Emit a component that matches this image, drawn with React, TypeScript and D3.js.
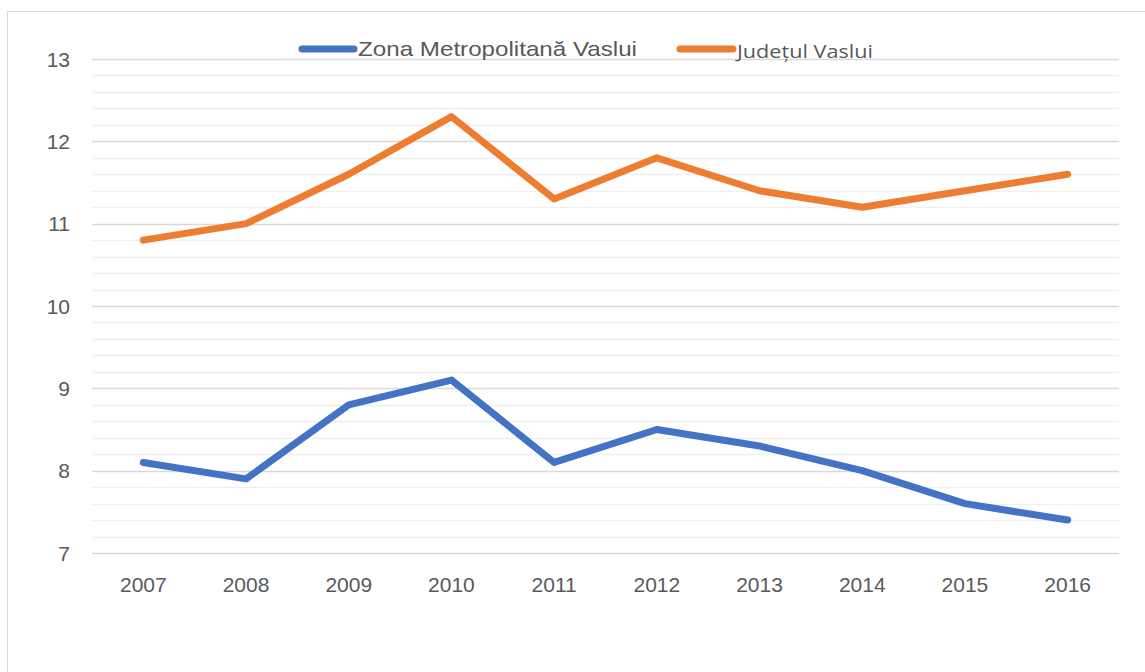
import React, { useEffect, useRef } from 'react';
import * as d3 from 'd3';

const years = ['2007', '2008', '2009', '2010', '2011', '2012', '2013', '2014', '2015', '2016'];
const zonaMetro = [8.1, 7.9, 8.8, 9.1, 8.1, 8.5, 8.3, 8.0, 7.6, 7.4];
const judetul = [10.8, 11.0, 11.6, 12.3, 11.3, 11.8, 11.4, 11.2, 11.4, 11.6];
const seriesNames = ['Zona Metropolitană Vaslui', 'Județul Vaslui'];
const yTicks = [7, 8, 9, 10, 11, 12, 13];

const App = () => {
    const ref = useRef<SVGSVGElement>(null);

    useEffect(() => {
        const width = 1145;
        const height = 672;
        const svg = d3.select(ref.current);
        svg.selectAll('*').remove();

        // chart frame
        svg.append('rect')
            .attr('x', 7.5).attr('y', 11.5)
            .attr('width', 1160).attr('height', 700)
            .attr('fill', '#fff')
            .attr('stroke', '#d9d9d9');

        const left = 92, right = 1119, top = 59, bottom = 553;
        const x = d3.scaleBand().domain(years).range([left, right]);
        const y = d3.scaleLinear().domain([7, 13]).range([bottom, top]);

        // minor gridlines
        const minor = d3.range(7, 13.001, 0.2).filter(v => Math.abs(v - Math.round(v)) > 0.01);
        svg.append('g').selectAll('line')
            .data(minor)
            .enter().append('line')
            .attr('x1', left).attr('x2', right)
            .attr('y1', d => Math.round(y(d)) + 0.5)
            .attr('y2', d => Math.round(y(d)) + 0.5)
            .attr('stroke', '#f0f0f0')
            .attr('stroke-width', 1.3);

        // major gridlines
        svg.append('g').selectAll('line')
            .data(yTicks)
            .enter().append('line')
            .attr('x1', left).attr('x2', right)
            .attr('y1', d => Math.round(y(d)) + 0.5)
            .attr('y2', d => Math.round(y(d)) + 0.5)
            .attr('stroke', '#d9d9d9')
            .attr('stroke-width', 1.3);

        // y labels
        svg.append('g').selectAll('text')
            .data(yTicks)
            .enter().append('text')
            .attr('x', 70)
            .attr('y', d => y(d))
            .attr('dy', '0.36em')
            .attr('text-anchor', 'end')
            .attr('font-family', 'Liberation Sans, Arial, sans-serif')
            .attr('font-size', 21)
            .attr('fill', '#595959')
            .text(d => d);

        // x labels
        svg.append('g').selectAll('text')
            .data(years)
            .enter().append('text')
            .attr('x', d => (x(d) as number) + x.bandwidth() / 2)
            .attr('y', 592)
            .attr('text-anchor', 'middle')
            .attr('font-family', 'Liberation Sans, Arial, sans-serif')
            .attr('font-size', 21)
            .attr('fill', '#595959')
            .text(d => d);

        const line = d3.line<number>()
            .x((d, i) => (x(years[i]) as number) + x.bandwidth() / 2)
            .y(d => y(d));

        const series = [
            { values: zonaMetro, color: '#4472c4' },
            { values: judetul, color: '#ed7d31' },
        ];
        series.forEach(s => {
            svg.append('path')
                .datum(s.values)
                .attr('d', line)
                .attr('fill', 'none')
                .attr('stroke', s.color)
                .attr('stroke-width', 7)
                .attr('stroke-linecap', 'round')
                .attr('stroke-linejoin', 'round');
        });

        // legend
        const legend = [
            { x1: 302, x2: 354, tx: 358, ty: 56, tw: 279, size: 21, color: '#4472c4', family: 'Liberation Sans, Arial, sans-serif' },
            { x1: 680, x2: 733, tx: 737, ty: 58, tw: 136, size: 19, color: '#ed7d31', family: 'Open Sans, sans-serif' },
        ];
        legend.forEach((l, i) => {
            svg.append('line')
                .attr('x1', l.x1).attr('x2', l.x2)
                .attr('y1', 49).attr('y2', 49)
                .attr('stroke', l.color)
                .attr('stroke-width', 7)
                .attr('stroke-linecap', 'round');
            svg.append('text')
                .attr('x', l.tx).attr('y', l.ty)
                .attr('font-family', l.family)
                .attr('font-size', l.size)
                .attr('fill', '#595959')
                .attr('textLength', l.tw)
                .attr('lengthAdjust', 'spacingAndGlyphs')
                .text(seriesNames[i]);
        });

        svg.attr('width', width).attr('height', height);
    }, []);

    return (
        <svg
            ref={ref}
            width={1145}
            height={672}
            style={{ position: 'absolute', left: 0, top: 0, background: '#fff' }}
        />
    );
};

export default App;
